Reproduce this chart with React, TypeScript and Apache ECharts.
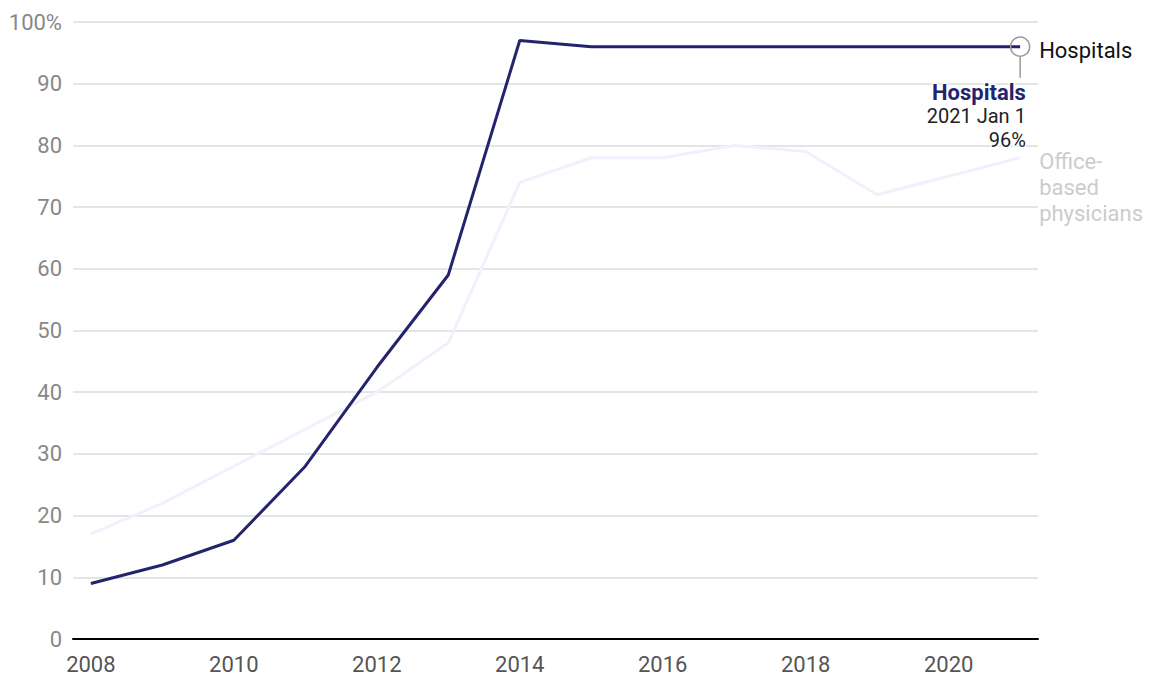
import React, { useEffect, useRef } from "react";
import * as echarts from "echarts";

const years = [2008, 2009, 2010, 2011, 2012, 2013, 2014, 2015, 2016, 2017, 2018, 2019, 2020, 2021];
const hospitals = [9, 12, 16, 28, 44, 59, 97, 96, 96, 96, 96, 96, 96, 96];
const officeBased = [17, 22, 28, 34, 40, 48, 74, 78, 78, 80, 79, 72, 75, 78];
const xTickLabels = [2008, 2010, 2012, 2014, 2016, 2018, 2020];

const FONT = "Roboto, 'Noto Sans', sans-serif";
const NAVY = "#24246e";

export default function App() {
  const ref = useRef<HTMLDivElement>(null);
  useEffect(() => {
    if (!ref.current) return;
    const chart = echarts.init(ref.current, undefined, { renderer: "svg" });
    const lastIdx = years.length - 1;
    const hospData = years.map((y, i) => {
      if (i === lastIdx) {
        return {
          value: [y, hospitals[i]],
          symbol: "circle",
          symbolSize: 19,
          itemStyle: { color: "rgba(255,255,255,0)", borderColor: "#999", borderWidth: 1.5 },
          label: {
            show: true,
            position: [16, 44],
            align: "right",
            verticalAlign: "top",
            formatter: "{b|Hospitals}\n{n|2021 Jan 1}\n{n|" + hospitals[i] + "%}",
            textBorderColor: "#fff",
            textBorderWidth: 3,
            rich: {
              b: { fontFamily: FONT, fontSize: 22, fontWeight: "bold", color: NAVY, align: "right", lineHeight: 24, textBorderColor: "#fff", textBorderWidth: 3 },
              n: { fontFamily: FONT, fontSize: 20, color: "#222", align: "right", lineHeight: 24, textBorderColor: "#fff", textBorderWidth: 3 },
            },
          },
        };
      }
      return { value: [y, hospitals[i]], symbol: "none" };
    });
    chart.setOption({
      animation: false,
      grid: { left: 73, right: 125, top: 22, bottom: 49 },
      xAxis: {
        type: "value",
        min: 2007.75,
        max: 2021.25,
        splitLine: { show: false },
        axisLine: { show: true, onZero: true, lineStyle: { color: "#000", width: 2 } },
        axisTick: { show: false },
        axisLabel: {
          customValues: xTickLabels,
          color: "#555",
          fontFamily: FONT,
          fontSize: 22,
          margin: 14,
          formatter: (v: number) => String(v),
        },
      },
      yAxis: {
        type: "value",
        min: 0,
        max: 100,
        interval: 10,
        axisLine: { show: false },
        axisTick: { show: false },
        splitLine: { lineStyle: { color: "#dcdcdc", width: 1.5 } },
        axisLabel: {
          color: "#888",
          fontFamily: FONT,
          fontSize: 22,
          margin: 11,
          formatter: (v: number) => (v === 100 ? "100%" : String(v)),
        },
      },
      series: [
        {
          name: "Office-based physicians",
          type: "line",
          data: years.map((y, i) => [y, officeBased[i]]),
          symbol: "none",
          lineStyle: { color: "#f1f0fc", width: 3 },
          z: 1,
          endLabel: {
            show: true,
            formatter: "Office-\nbased\nphysicians",
            color: "#cccccc",
            fontFamily: FONT,
            fontSize: 22,
            lineHeight: 26,
            distance: 19,
            verticalAlign: "top",
            offset: [0, -9],
          },
        },
        {
          name: "Hospitals",
          type: "line",
          data: hospData,
          lineStyle: { color: NAVY, width: 3 },
          z: 3,
          endLabel: {
            show: true,
            formatter: "Hospitals",
            color: "#111",
            fontFamily: FONT,
            fontSize: 22,
            distance: 19,
            offset: [0, 4],
          },
        },
      ],
    });
    const p = chart.convertToPixel({ gridIndex: 0 }, [years[lastIdx], hospitals[lastIdx]]);
    chart.setOption({
      graphic: [
        {
          type: "line",
          shape: { x1: p[0], y1: p[1] + 9.5, x2: p[0], y2: p[1] + 31 },
          style: { stroke: "#999", lineWidth: 1.5 },
          z: 10,
        },
      ],
    });
    return () => chart.dispose();
  }, []);
  return <div ref={ref} style={{ width: 1163, height: 688, position: "absolute", left: 0, top: 0 }} />;
}
